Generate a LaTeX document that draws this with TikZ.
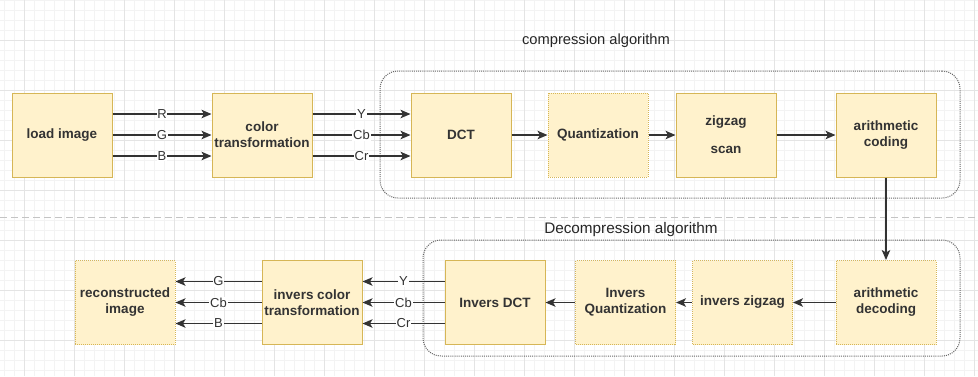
\documentclass[tikz,border=0pt]{standalone}
\usepackage{fontspec}
\setmainfont{Liberation Sans}
\usetikzlibrary{arrows.meta}
\definecolor{boxfill}{HTML}{FFF2CC}
\definecolor{boxline}{HTML}{D6B656}
\definecolor{ink}{HTML}{333333}
\definecolor{gridminor}{HTML}{F3F3F3}
\definecolor{gridmajor}{HTML}{E4E4E4}
\definecolor{sepline}{HTML}{C4C4C4}

\tikzset{
  block/.style={draw=boxline, fill=boxfill, line width=1pt,
    minimum width=100pt, minimum height=84pt, inner sep=0pt, align=center,
    font=\fontsize{13.5}{16}\selectfont\bfseries, text=ink},
  softblock/.style={block, dash pattern=on 1pt off 1pt},
  group/.style={draw=black!60, line width=1pt, dash pattern=on 1pt off 1.1pt,
    rounded corners=18pt, inner sep=0pt},
  flow/.style={draw=ink, line width=1.3pt,
    -{Stealth[length=10pt,width=8.5pt,inset=2.5pt]}},
  tag/.style={fill=white, inner sep=0.8pt,
    font=\fontsize{13}{15}\selectfont, text=ink},
  heading/.style={text=black!85, inner sep=0pt}
}

\begin{document}
\begin{tikzpicture}[x=1pt, y=-1pt]
  \useasboundingbox (0,0) rectangle (978,376);
  \fill[white] (0,0) rectangle (978,376);

  % background grid
  \foreach \gx in {4,14,...,974} \draw[gridminor, line width=0.6pt] (\gx,0) -- (\gx,376);
  \foreach \gy in {0,10,...,370} \draw[gridminor, line width=0.6pt] (0,\gy) -- (978,\gy);
  \foreach \gx in {24,74,...,974} \draw[gridmajor, line width=0.7pt] (\gx,0) -- (\gx,376);
  \foreach \gy in {40,90,...,340} \draw[gridmajor, line width=0.7pt] (0,\gy) -- (978,\gy);

  % separator between the two halves
  \coordinate (sepL) at (0,217);
  \coordinate (sepR) at (978,217);
  \draw[sepline, line width=0.8pt, dash pattern=on 7pt off 4pt] (sepL) -- (sepR);

  % groups
  \node[group, minimum width=580pt, minimum height=127pt] (comp) at (670,134.5) {};
  \node[group, minimum width=537pt, minimum height=116pt] (decomp) at (691.5,298) {};
  \node[heading, font=\fontsize{14.7}{17}\selectfont] (compT) at (596,41) {compression algorithm};
  \node[heading, font=\fontsize{15.3}{17}\selectfont] (decompT) at (631,230) {Decompression algorithm};

  % compression chain
  \node[block] (load) at (62,135) {load image};
  \node[block] (color) at (262,135) {color\\transformation};
  \node[block] (dct) at (461,135) {DCT};
  \node[softblock] (quant) at (598,135) {Quantization};
  \node[block] (zig) at (726,135) {zigzag\\[12pt]scan};
  \node[block] (arith) at (886,135) {arithmetic\\coding};

  % decompression chain
  \node[softblock] (recon) at (125,302.5) {reconstructed\\image};
  \node[block] (icolor) at (312,302.5) {invers color\\transformation};
  \node[block] (idct) at (495,302.5) {Invers DCT};
  \node[softblock] (iquant) at (625.5,302.5) {Invers\\Quantization};
  \node[softblock] (izig) at (742.5,302.5) {invers zigzag};
  \node[softblock] (adec) at (886,302.5) {arithmetic\\decoding};

  % channels, top
  \draw[flow] ([yshift=21pt]load.east) -- node[tag]{R} ([yshift=21pt]color.west);
  \draw[flow] (load.east) -- node[tag]{G} (color.west);
  \draw[flow] ([yshift=-21pt]load.east) -- node[tag]{B} ([yshift=-21pt]color.west);
  \draw[flow] ([yshift=21pt]color.east) -- node[tag]{Y} ([yshift=21pt]dct.west);
  \draw[flow] (color.east) -- node[tag]{Cb} (dct.west);
  \draw[flow] ([yshift=-21pt]color.east) -- node[tag]{Cr} ([yshift=-21pt]dct.west);

  \draw[flow] (dct) -- (quant);
  \draw[flow] (quant) -- (zig);
  \draw[flow] (zig) -- (arith);
  \draw[flow] (arith) -- (adec);

  % decompression flow
  \draw[flow] (adec) -- (izig);
  \draw[flow] (izig) -- (iquant);
  \draw[flow] (iquant) -- (idct);

  \draw[flow] ([yshift=21pt]idct.west) -- node[tag]{Y} ([yshift=21pt]icolor.east);
  \draw[flow] (idct.west) -- node[tag]{Cb} (icolor.east);
  \draw[flow] ([yshift=-21pt]idct.west) -- node[tag]{Cr} ([yshift=-21pt]icolor.east);
  \draw[flow] ([yshift=21pt]icolor.west) -- node[tag]{G} ([yshift=21pt]recon.east);
  \draw[flow] (icolor.west) -- node[tag]{Cb} (recon.east);
  \draw[flow] ([yshift=-21pt]icolor.west) -- node[tag]{B} ([yshift=-21pt]recon.east);
\end{tikzpicture}
\end{document}
